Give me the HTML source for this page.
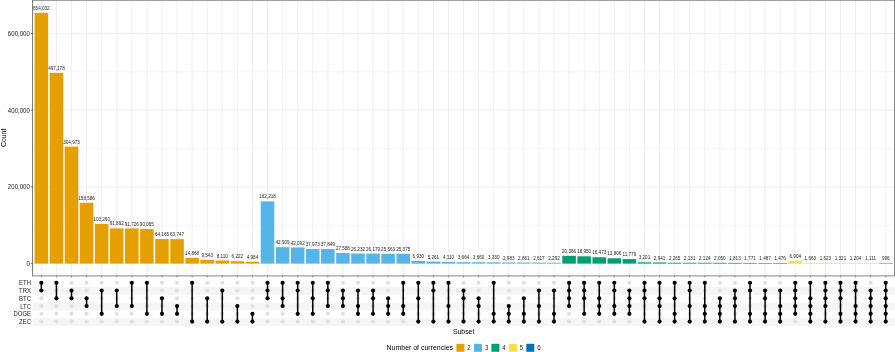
<!DOCTYPE html>
<html><head><meta charset="utf-8"><title>UpSet plot</title>
<style>html,body{margin:0;padding:0;background:#fff;}body{width:895px;height:352px;overflow:hidden;font-family:"Liberation Sans", sans-serif;}svg{display:block;will-change:transform;}</style>
</head><body>
<svg width="895" height="352" viewBox="0 0 895 352">
<rect x="0" y="0" width="895" height="352" fill="#fff"/>
<line x1="32.45" x2="894.30" y1="263.60" y2="263.60" stroke="#EDEDED" stroke-width="0.9"/><line x1="32.45" x2="894.30" y1="225.25" y2="225.25" stroke="#EDEDED" stroke-width="0.5"/><line x1="32.45" x2="894.30" y1="186.90" y2="186.90" stroke="#EDEDED" stroke-width="0.9"/><line x1="32.45" x2="894.30" y1="148.55" y2="148.55" stroke="#EDEDED" stroke-width="0.5"/><line x1="32.45" x2="894.30" y1="110.20" y2="110.20" stroke="#EDEDED" stroke-width="0.9"/><line x1="32.45" x2="894.30" y1="71.85" y2="71.85" stroke="#EDEDED" stroke-width="0.5"/><line x1="32.45" x2="894.30" y1="33.50" y2="33.50" stroke="#EDEDED" stroke-width="0.9"/><line x1="41.35" x2="41.35" y1="0.0" y2="275.90" stroke="#EDEDED" stroke-width="0.9"/><line x1="56.43" x2="56.43" y1="0.0" y2="275.90" stroke="#EDEDED" stroke-width="0.9"/><line x1="71.51" x2="71.51" y1="0.0" y2="275.90" stroke="#EDEDED" stroke-width="0.9"/><line x1="86.58" x2="86.58" y1="0.0" y2="275.90" stroke="#EDEDED" stroke-width="0.9"/><line x1="101.66" x2="101.66" y1="0.0" y2="275.90" stroke="#EDEDED" stroke-width="0.9"/><line x1="116.74" x2="116.74" y1="0.0" y2="275.90" stroke="#EDEDED" stroke-width="0.9"/><line x1="131.82" x2="131.82" y1="0.0" y2="275.90" stroke="#EDEDED" stroke-width="0.9"/><line x1="146.90" x2="146.90" y1="0.0" y2="275.90" stroke="#EDEDED" stroke-width="0.9"/><line x1="161.97" x2="161.97" y1="0.0" y2="275.90" stroke="#EDEDED" stroke-width="0.9"/><line x1="177.05" x2="177.05" y1="0.0" y2="275.90" stroke="#EDEDED" stroke-width="0.9"/><line x1="192.13" x2="192.13" y1="0.0" y2="275.90" stroke="#EDEDED" stroke-width="0.9"/><line x1="207.21" x2="207.21" y1="0.0" y2="275.90" stroke="#EDEDED" stroke-width="0.9"/><line x1="222.29" x2="222.29" y1="0.0" y2="275.90" stroke="#EDEDED" stroke-width="0.9"/><line x1="237.36" x2="237.36" y1="0.0" y2="275.90" stroke="#EDEDED" stroke-width="0.9"/><line x1="252.44" x2="252.44" y1="0.0" y2="275.90" stroke="#EDEDED" stroke-width="0.9"/><line x1="267.52" x2="267.52" y1="0.0" y2="275.90" stroke="#EDEDED" stroke-width="0.9"/><line x1="282.60" x2="282.60" y1="0.0" y2="275.90" stroke="#EDEDED" stroke-width="0.9"/><line x1="297.68" x2="297.68" y1="0.0" y2="275.90" stroke="#EDEDED" stroke-width="0.9"/><line x1="312.75" x2="312.75" y1="0.0" y2="275.90" stroke="#EDEDED" stroke-width="0.9"/><line x1="327.83" x2="327.83" y1="0.0" y2="275.90" stroke="#EDEDED" stroke-width="0.9"/><line x1="342.91" x2="342.91" y1="0.0" y2="275.90" stroke="#EDEDED" stroke-width="0.9"/><line x1="357.99" x2="357.99" y1="0.0" y2="275.90" stroke="#EDEDED" stroke-width="0.9"/><line x1="373.07" x2="373.07" y1="0.0" y2="275.90" stroke="#EDEDED" stroke-width="0.9"/><line x1="388.14" x2="388.14" y1="0.0" y2="275.90" stroke="#EDEDED" stroke-width="0.9"/><line x1="403.22" x2="403.22" y1="0.0" y2="275.90" stroke="#EDEDED" stroke-width="0.9"/><line x1="418.30" x2="418.30" y1="0.0" y2="275.90" stroke="#EDEDED" stroke-width="0.9"/><line x1="433.38" x2="433.38" y1="0.0" y2="275.90" stroke="#EDEDED" stroke-width="0.9"/><line x1="448.46" x2="448.46" y1="0.0" y2="275.90" stroke="#EDEDED" stroke-width="0.9"/><line x1="463.53" x2="463.53" y1="0.0" y2="275.90" stroke="#EDEDED" stroke-width="0.9"/><line x1="478.61" x2="478.61" y1="0.0" y2="275.90" stroke="#EDEDED" stroke-width="0.9"/><line x1="493.69" x2="493.69" y1="0.0" y2="275.90" stroke="#EDEDED" stroke-width="0.9"/><line x1="508.77" x2="508.77" y1="0.0" y2="275.90" stroke="#EDEDED" stroke-width="0.9"/><line x1="523.85" x2="523.85" y1="0.0" y2="275.90" stroke="#EDEDED" stroke-width="0.9"/><line x1="538.92" x2="538.92" y1="0.0" y2="275.90" stroke="#EDEDED" stroke-width="0.9"/><line x1="554.00" x2="554.00" y1="0.0" y2="275.90" stroke="#EDEDED" stroke-width="0.9"/><line x1="569.08" x2="569.08" y1="0.0" y2="275.90" stroke="#EDEDED" stroke-width="0.9"/><line x1="584.16" x2="584.16" y1="0.0" y2="275.90" stroke="#EDEDED" stroke-width="0.9"/><line x1="599.24" x2="599.24" y1="0.0" y2="275.90" stroke="#EDEDED" stroke-width="0.9"/><line x1="614.31" x2="614.31" y1="0.0" y2="275.90" stroke="#EDEDED" stroke-width="0.9"/><line x1="629.39" x2="629.39" y1="0.0" y2="275.90" stroke="#EDEDED" stroke-width="0.9"/><line x1="644.47" x2="644.47" y1="0.0" y2="275.90" stroke="#EDEDED" stroke-width="0.9"/><line x1="659.55" x2="659.55" y1="0.0" y2="275.90" stroke="#EDEDED" stroke-width="0.9"/><line x1="674.63" x2="674.63" y1="0.0" y2="275.90" stroke="#EDEDED" stroke-width="0.9"/><line x1="689.70" x2="689.70" y1="0.0" y2="275.90" stroke="#EDEDED" stroke-width="0.9"/><line x1="704.78" x2="704.78" y1="0.0" y2="275.90" stroke="#EDEDED" stroke-width="0.9"/><line x1="719.86" x2="719.86" y1="0.0" y2="275.90" stroke="#EDEDED" stroke-width="0.9"/><line x1="734.94" x2="734.94" y1="0.0" y2="275.90" stroke="#EDEDED" stroke-width="0.9"/><line x1="750.02" x2="750.02" y1="0.0" y2="275.90" stroke="#EDEDED" stroke-width="0.9"/><line x1="765.09" x2="765.09" y1="0.0" y2="275.90" stroke="#EDEDED" stroke-width="0.9"/><line x1="780.17" x2="780.17" y1="0.0" y2="275.90" stroke="#EDEDED" stroke-width="0.9"/><line x1="795.25" x2="795.25" y1="0.0" y2="275.90" stroke="#EDEDED" stroke-width="0.9"/><line x1="810.33" x2="810.33" y1="0.0" y2="275.90" stroke="#EDEDED" stroke-width="0.9"/><line x1="825.41" x2="825.41" y1="0.0" y2="275.90" stroke="#EDEDED" stroke-width="0.9"/><line x1="840.48" x2="840.48" y1="0.0" y2="275.90" stroke="#EDEDED" stroke-width="0.9"/><line x1="855.56" x2="855.56" y1="0.0" y2="275.90" stroke="#EDEDED" stroke-width="0.9"/><line x1="870.64" x2="870.64" y1="0.0" y2="275.90" stroke="#EDEDED" stroke-width="0.9"/><line x1="885.72" x2="885.72" y1="0.0" y2="275.90" stroke="#EDEDED" stroke-width="0.9"/>
<rect x="34.57" y="12.78" width="13.56" height="250.82" fill="#E69F00"/><rect x="49.65" y="72.93" width="13.56" height="190.67" fill="#E69F00"/><rect x="64.73" y="146.64" width="13.56" height="116.96" fill="#E69F00"/><rect x="79.80" y="202.78" width="13.56" height="60.82" fill="#E69F00"/><rect x="94.88" y="224.00" width="13.56" height="39.60" fill="#E69F00"/><rect x="109.96" y="228.36" width="13.56" height="35.24" fill="#E69F00"/><rect x="125.04" y="228.42" width="13.56" height="35.18" fill="#E69F00"/><rect x="140.12" y="229.06" width="13.56" height="34.54" fill="#E69F00"/><rect x="155.19" y="238.99" width="13.56" height="24.61" fill="#E69F00"/><rect x="170.27" y="239.15" width="13.56" height="24.45" fill="#E69F00"/><rect x="185.35" y="257.90" width="13.56" height="5.70" fill="#E69F00"/><rect x="200.43" y="259.94" width="13.56" height="3.66" fill="#E69F00"/><rect x="215.51" y="260.49" width="13.56" height="3.11" fill="#E69F00"/><rect x="230.58" y="261.21" width="13.56" height="2.39" fill="#E69F00"/><rect x="245.66" y="261.69" width="13.56" height="1.91" fill="#E69F00"/><rect x="260.74" y="201.39" width="13.56" height="62.21" fill="#56B4E9"/><rect x="275.82" y="247.14" width="13.56" height="16.46" fill="#56B4E9"/><rect x="290.90" y="247.46" width="13.56" height="16.14" fill="#56B4E9"/><rect x="305.97" y="249.04" width="13.56" height="14.56" fill="#56B4E9"/><rect x="321.05" y="249.08" width="13.56" height="14.52" fill="#56B4E9"/><rect x="336.13" y="253.02" width="13.56" height="10.58" fill="#56B4E9"/><rect x="351.21" y="253.54" width="13.56" height="10.06" fill="#56B4E9"/><rect x="366.29" y="253.56" width="13.56" height="10.04" fill="#56B4E9"/><rect x="381.36" y="253.80" width="13.56" height="9.80" fill="#56B4E9"/><rect x="396.44" y="253.87" width="13.56" height="9.73" fill="#56B4E9"/><rect x="411.52" y="260.94" width="13.56" height="2.66" fill="#56B4E9"/><rect x="426.60" y="261.58" width="13.56" height="2.02" fill="#56B4E9"/><rect x="441.68" y="262.02" width="13.56" height="1.58" fill="#56B4E9"/><rect x="456.75" y="262.19" width="13.56" height="1.41" fill="#56B4E9"/><rect x="471.83" y="262.20" width="13.56" height="1.40" fill="#56B4E9"/><rect x="486.91" y="262.32" width="13.56" height="1.28" fill="#56B4E9"/><rect x="501.99" y="262.46" width="13.56" height="1.14" fill="#56B4E9"/><rect x="517.07" y="262.50" width="13.56" height="1.10" fill="#56B4E9"/><rect x="532.14" y="262.60" width="13.56" height="1.00" fill="#56B4E9"/><rect x="547.22" y="262.72" width="13.56" height="0.88" fill="#56B4E9"/><rect x="562.30" y="255.79" width="13.56" height="7.81" fill="#009E73"/><rect x="577.38" y="256.33" width="13.56" height="7.27" fill="#009E73"/><rect x="592.46" y="257.28" width="13.56" height="6.32" fill="#009E73"/><rect x="607.53" y="258.31" width="13.56" height="5.29" fill="#009E73"/><rect x="622.61" y="259.08" width="13.56" height="4.52" fill="#009E73"/><rect x="637.69" y="262.37" width="13.56" height="1.23" fill="#009E73"/><rect x="652.77" y="262.47" width="13.56" height="1.13" fill="#009E73"/><rect x="667.85" y="262.73" width="13.56" height="0.87" fill="#009E73"/><rect x="682.92" y="262.78" width="13.56" height="0.82" fill="#009E73"/><rect x="698.00" y="262.79" width="13.56" height="0.81" fill="#009E73"/><rect x="713.08" y="262.81" width="13.56" height="0.79" fill="#009E73"/><rect x="728.16" y="262.90" width="13.56" height="0.70" fill="#009E73"/><rect x="743.24" y="262.92" width="13.56" height="0.68" fill="#009E73"/><rect x="758.31" y="263.03" width="13.56" height="0.57" fill="#009E73"/><rect x="773.39" y="263.03" width="13.56" height="0.57" fill="#009E73"/><rect x="788.47" y="260.95" width="13.56" height="2.65" fill="#F0E442"/><rect x="803.55" y="262.96" width="13.56" height="0.64" fill="#F0E442"/><rect x="818.63" y="262.98" width="13.56" height="0.62" fill="#F0E442"/><rect x="833.70" y="263.09" width="13.56" height="0.51" fill="#F0E442"/><rect x="848.78" y="263.14" width="13.56" height="0.46" fill="#F0E442"/><rect x="863.86" y="263.17" width="13.56" height="0.43" fill="#F0E442"/><rect x="878.94" y="263.22" width="13.56" height="0.38" fill="#0072B2"/>
<g font-family="Liberation Sans, sans-serif"><text x="41.35" y="9.88" font-size="4.6" fill="#1e1e1e" text-anchor="middle">654,032</text><text x="56.43" y="70.03" font-size="4.6" fill="#1e1e1e" text-anchor="middle">497,178</text><text x="71.51" y="143.74" font-size="4.6" fill="#1e1e1e" text-anchor="middle">304,973</text><text x="86.58" y="199.88" font-size="4.6" fill="#1e1e1e" text-anchor="middle">158,586</text><text x="101.66" y="221.10" font-size="4.6" fill="#1e1e1e" text-anchor="middle">103,260</text><text x="116.74" y="225.46" font-size="4.6" fill="#1e1e1e" text-anchor="middle">91,892</text><text x="131.82" y="225.52" font-size="4.6" fill="#1e1e1e" text-anchor="middle">91,726</text><text x="146.90" y="226.16" font-size="4.6" fill="#1e1e1e" text-anchor="middle">90,065</text><text x="161.97" y="236.09" font-size="4.6" fill="#1e1e1e" text-anchor="middle">64,165</text><text x="177.05" y="236.25" font-size="4.6" fill="#1e1e1e" text-anchor="middle">63,747</text><text x="192.13" y="255.00" font-size="4.6" fill="#1e1e1e" text-anchor="middle">14,868</text><text x="207.21" y="257.04" font-size="4.6" fill="#1e1e1e" text-anchor="middle">9,543</text><text x="222.29" y="257.59" font-size="4.6" fill="#1e1e1e" text-anchor="middle">8,110</text><text x="237.36" y="258.31" font-size="4.6" fill="#1e1e1e" text-anchor="middle">6,222</text><text x="252.44" y="258.79" font-size="4.6" fill="#1e1e1e" text-anchor="middle">4,984</text><text x="267.52" y="198.49" font-size="4.6" fill="#1e1e1e" text-anchor="middle">162,218</text><text x="282.60" y="244.24" font-size="4.6" fill="#1e1e1e" text-anchor="middle">42,909</text><text x="297.68" y="244.56" font-size="4.6" fill="#1e1e1e" text-anchor="middle">42,092</text><text x="312.75" y="246.14" font-size="4.6" fill="#1e1e1e" text-anchor="middle">37,973</text><text x="327.83" y="246.18" font-size="4.6" fill="#1e1e1e" text-anchor="middle">37,849</text><text x="342.91" y="250.12" font-size="4.6" fill="#1e1e1e" text-anchor="middle">27,588</text><text x="357.99" y="250.64" font-size="4.6" fill="#1e1e1e" text-anchor="middle">26,232</text><text x="373.07" y="250.66" font-size="4.6" fill="#1e1e1e" text-anchor="middle">26,179</text><text x="388.14" y="250.90" font-size="4.6" fill="#1e1e1e" text-anchor="middle">25,563</text><text x="403.22" y="250.97" font-size="4.6" fill="#1e1e1e" text-anchor="middle">25,375</text><text x="418.30" y="258.04" font-size="4.6" fill="#1e1e1e" text-anchor="middle">6,930</text><text x="433.38" y="258.68" font-size="4.6" fill="#1e1e1e" text-anchor="middle">5,261</text><text x="448.46" y="259.12" font-size="4.6" fill="#1e1e1e" text-anchor="middle">4,110</text><text x="463.53" y="259.29" font-size="4.6" fill="#1e1e1e" text-anchor="middle">3,664</text><text x="478.61" y="259.30" font-size="4.6" fill="#1e1e1e" text-anchor="middle">3,660</text><text x="493.69" y="259.42" font-size="4.6" fill="#1e1e1e" text-anchor="middle">3,330</text><text x="508.77" y="259.56" font-size="4.6" fill="#1e1e1e" text-anchor="middle">2,983</text><text x="523.85" y="259.60" font-size="4.6" fill="#1e1e1e" text-anchor="middle">2,861</text><text x="538.92" y="259.70" font-size="4.6" fill="#1e1e1e" text-anchor="middle">2,617</text><text x="554.00" y="259.82" font-size="4.6" fill="#1e1e1e" text-anchor="middle">2,292</text><text x="569.08" y="252.89" font-size="4.6" fill="#1e1e1e" text-anchor="middle">20,366</text><text x="584.16" y="253.43" font-size="4.6" fill="#1e1e1e" text-anchor="middle">18,950</text><text x="599.24" y="254.38" font-size="4.6" fill="#1e1e1e" text-anchor="middle">16,473</text><text x="614.31" y="255.41" font-size="4.6" fill="#1e1e1e" text-anchor="middle">13,806</text><text x="629.39" y="256.18" font-size="4.6" fill="#1e1e1e" text-anchor="middle">11,779</text><text x="644.47" y="259.47" font-size="4.6" fill="#1e1e1e" text-anchor="middle">3,201</text><text x="659.55" y="259.57" font-size="4.6" fill="#1e1e1e" text-anchor="middle">2,941</text><text x="674.63" y="259.83" font-size="4.6" fill="#1e1e1e" text-anchor="middle">2,265</text><text x="689.70" y="259.88" font-size="4.6" fill="#1e1e1e" text-anchor="middle">2,131</text><text x="704.78" y="259.89" font-size="4.6" fill="#1e1e1e" text-anchor="middle">2,124</text><text x="719.86" y="259.91" font-size="4.6" fill="#1e1e1e" text-anchor="middle">2,050</text><text x="734.94" y="260.00" font-size="4.6" fill="#1e1e1e" text-anchor="middle">1,813</text><text x="750.02" y="260.02" font-size="4.6" fill="#1e1e1e" text-anchor="middle">1,771</text><text x="765.09" y="260.13" font-size="4.6" fill="#1e1e1e" text-anchor="middle">1,487</text><text x="780.17" y="260.13" font-size="4.6" fill="#1e1e1e" text-anchor="middle">1,476</text><text x="795.25" y="258.05" font-size="4.6" fill="#1e1e1e" text-anchor="middle">6,904</text><text x="810.33" y="260.06" font-size="4.6" fill="#1e1e1e" text-anchor="middle">1,663</text><text x="825.41" y="260.08" font-size="4.6" fill="#1e1e1e" text-anchor="middle">1,623</text><text x="840.48" y="260.19" font-size="4.6" fill="#1e1e1e" text-anchor="middle">1,321</text><text x="855.56" y="260.24" font-size="4.6" fill="#1e1e1e" text-anchor="middle">1,204</text><text x="870.64" y="260.27" font-size="4.6" fill="#1e1e1e" text-anchor="middle">1,111</text><text x="885.72" y="260.32" font-size="4.6" fill="#1e1e1e" text-anchor="middle">996</text></g>
<line x1="32.5" x2="895" y1="0.4" y2="0.4" stroke="#888" stroke-width="0.9"/>
<line x1="894.5" x2="894.5" y1="0" y2="275.90" stroke="#888" stroke-width="1"/>
<line x1="32.55" x2="32.55" y1="0" y2="276.40" stroke="#777" stroke-width="1"/>
<line x1="32.05" x2="894.30" y1="275.90" y2="275.90" stroke="#888" stroke-width="1"/>
<line x1="30.8" x2="32.5" y1="263.60" y2="263.60" stroke="#444" stroke-width="0.8"/><line x1="30.8" x2="32.5" y1="186.90" y2="186.90" stroke="#444" stroke-width="0.8"/><line x1="30.8" x2="32.5" y1="110.20" y2="110.20" stroke="#444" stroke-width="0.8"/><line x1="30.8" x2="32.5" y1="33.50" y2="33.50" stroke="#444" stroke-width="0.8"/>
<g font-family="Liberation Sans, sans-serif"><text transform="translate(29.90 265.90) scale(0.1000 0.1100)" font-size="61.0" fill="#222" text-anchor="end">0</text><text transform="translate(29.90 189.20) scale(0.1000 0.1100)" font-size="61.0" fill="#222" text-anchor="end">200,000</text><text transform="translate(29.90 112.50) scale(0.1000 0.1100)" font-size="61.0" fill="#222" text-anchor="end">400,000</text><text transform="translate(29.90 35.80) scale(0.1000 0.1100)" font-size="61.0" fill="#222" text-anchor="end">600,000</text></g>
<line x1="41.35" x2="41.35" y1="275.90" y2="277.30" stroke="#555" stroke-width="0.7"/><line x1="56.43" x2="56.43" y1="275.90" y2="277.30" stroke="#555" stroke-width="0.7"/><line x1="71.51" x2="71.51" y1="275.90" y2="277.30" stroke="#555" stroke-width="0.7"/><line x1="86.58" x2="86.58" y1="275.90" y2="277.30" stroke="#555" stroke-width="0.7"/><line x1="101.66" x2="101.66" y1="275.90" y2="277.30" stroke="#555" stroke-width="0.7"/><line x1="116.74" x2="116.74" y1="275.90" y2="277.30" stroke="#555" stroke-width="0.7"/><line x1="131.82" x2="131.82" y1="275.90" y2="277.30" stroke="#555" stroke-width="0.7"/><line x1="146.90" x2="146.90" y1="275.90" y2="277.30" stroke="#555" stroke-width="0.7"/><line x1="161.97" x2="161.97" y1="275.90" y2="277.30" stroke="#555" stroke-width="0.7"/><line x1="177.05" x2="177.05" y1="275.90" y2="277.30" stroke="#555" stroke-width="0.7"/><line x1="192.13" x2="192.13" y1="275.90" y2="277.30" stroke="#555" stroke-width="0.7"/><line x1="207.21" x2="207.21" y1="275.90" y2="277.30" stroke="#555" stroke-width="0.7"/><line x1="222.29" x2="222.29" y1="275.90" y2="277.30" stroke="#555" stroke-width="0.7"/><line x1="237.36" x2="237.36" y1="275.90" y2="277.30" stroke="#555" stroke-width="0.7"/><line x1="252.44" x2="252.44" y1="275.90" y2="277.30" stroke="#555" stroke-width="0.7"/><line x1="267.52" x2="267.52" y1="275.90" y2="277.30" stroke="#555" stroke-width="0.7"/><line x1="282.60" x2="282.60" y1="275.90" y2="277.30" stroke="#555" stroke-width="0.7"/><line x1="297.68" x2="297.68" y1="275.90" y2="277.30" stroke="#555" stroke-width="0.7"/><line x1="312.75" x2="312.75" y1="275.90" y2="277.30" stroke="#555" stroke-width="0.7"/><line x1="327.83" x2="327.83" y1="275.90" y2="277.30" stroke="#555" stroke-width="0.7"/><line x1="342.91" x2="342.91" y1="275.90" y2="277.30" stroke="#555" stroke-width="0.7"/><line x1="357.99" x2="357.99" y1="275.90" y2="277.30" stroke="#555" stroke-width="0.7"/><line x1="373.07" x2="373.07" y1="275.90" y2="277.30" stroke="#555" stroke-width="0.7"/><line x1="388.14" x2="388.14" y1="275.90" y2="277.30" stroke="#555" stroke-width="0.7"/><line x1="403.22" x2="403.22" y1="275.90" y2="277.30" stroke="#555" stroke-width="0.7"/><line x1="418.30" x2="418.30" y1="275.90" y2="277.30" stroke="#555" stroke-width="0.7"/><line x1="433.38" x2="433.38" y1="275.90" y2="277.30" stroke="#555" stroke-width="0.7"/><line x1="448.46" x2="448.46" y1="275.90" y2="277.30" stroke="#555" stroke-width="0.7"/><line x1="463.53" x2="463.53" y1="275.90" y2="277.30" stroke="#555" stroke-width="0.7"/><line x1="478.61" x2="478.61" y1="275.90" y2="277.30" stroke="#555" stroke-width="0.7"/><line x1="493.69" x2="493.69" y1="275.90" y2="277.30" stroke="#555" stroke-width="0.7"/><line x1="508.77" x2="508.77" y1="275.90" y2="277.30" stroke="#555" stroke-width="0.7"/><line x1="523.85" x2="523.85" y1="275.90" y2="277.30" stroke="#555" stroke-width="0.7"/><line x1="538.92" x2="538.92" y1="275.90" y2="277.30" stroke="#555" stroke-width="0.7"/><line x1="554.00" x2="554.00" y1="275.90" y2="277.30" stroke="#555" stroke-width="0.7"/><line x1="569.08" x2="569.08" y1="275.90" y2="277.30" stroke="#555" stroke-width="0.7"/><line x1="584.16" x2="584.16" y1="275.90" y2="277.30" stroke="#555" stroke-width="0.7"/><line x1="599.24" x2="599.24" y1="275.90" y2="277.30" stroke="#555" stroke-width="0.7"/><line x1="614.31" x2="614.31" y1="275.90" y2="277.30" stroke="#555" stroke-width="0.7"/><line x1="629.39" x2="629.39" y1="275.90" y2="277.30" stroke="#555" stroke-width="0.7"/><line x1="644.47" x2="644.47" y1="275.90" y2="277.30" stroke="#555" stroke-width="0.7"/><line x1="659.55" x2="659.55" y1="275.90" y2="277.30" stroke="#555" stroke-width="0.7"/><line x1="674.63" x2="674.63" y1="275.90" y2="277.30" stroke="#555" stroke-width="0.7"/><line x1="689.70" x2="689.70" y1="275.90" y2="277.30" stroke="#555" stroke-width="0.7"/><line x1="704.78" x2="704.78" y1="275.90" y2="277.30" stroke="#555" stroke-width="0.7"/><line x1="719.86" x2="719.86" y1="275.90" y2="277.30" stroke="#555" stroke-width="0.7"/><line x1="734.94" x2="734.94" y1="275.90" y2="277.30" stroke="#555" stroke-width="0.7"/><line x1="750.02" x2="750.02" y1="275.90" y2="277.30" stroke="#555" stroke-width="0.7"/><line x1="765.09" x2="765.09" y1="275.90" y2="277.30" stroke="#555" stroke-width="0.7"/><line x1="780.17" x2="780.17" y1="275.90" y2="277.30" stroke="#555" stroke-width="0.7"/><line x1="795.25" x2="795.25" y1="275.90" y2="277.30" stroke="#555" stroke-width="0.7"/><line x1="810.33" x2="810.33" y1="275.90" y2="277.30" stroke="#555" stroke-width="0.7"/><line x1="825.41" x2="825.41" y1="275.90" y2="277.30" stroke="#555" stroke-width="0.7"/><line x1="840.48" x2="840.48" y1="275.90" y2="277.30" stroke="#555" stroke-width="0.7"/><line x1="855.56" x2="855.56" y1="275.90" y2="277.30" stroke="#555" stroke-width="0.7"/><line x1="870.64" x2="870.64" y1="275.90" y2="277.30" stroke="#555" stroke-width="0.7"/><line x1="885.72" x2="885.72" y1="275.90" y2="277.30" stroke="#555" stroke-width="0.7"/>
<text transform="translate(6.2,137.9) rotate(-90) scale(0.1 0.1080)" font-family="Liberation Sans, sans-serif" font-size="69.0" fill="#000" text-anchor="middle">Count</text>
<rect x="32.45" y="286.99" width="862.55" height="7.77" fill="#F5F5F5"/><rect x="32.45" y="302.53" width="862.55" height="7.77" fill="#F5F5F5"/><rect x="32.45" y="318.07" width="862.55" height="7.77" fill="#F5F5F5"/>
<g font-family="Liberation Sans, sans-serif"><text transform="translate(31.00 285.20) scale(0.1000 0.1100)" font-size="59.5" fill="#222" text-anchor="end">ETH</text><text transform="translate(31.00 292.97) scale(0.1000 0.1100)" font-size="59.5" fill="#222" text-anchor="end">TRX</text><text transform="translate(31.00 300.74) scale(0.1000 0.1100)" font-size="59.5" fill="#222" text-anchor="end">BTC</text><text transform="translate(31.00 308.51) scale(0.1000 0.1100)" font-size="59.5" fill="#222" text-anchor="end">LTC</text><text transform="translate(31.00 316.28) scale(0.1000 0.1100)" font-size="59.5" fill="#222" text-anchor="end">DOGE</text><text transform="translate(31.00 324.05) scale(0.1000 0.1100)" font-size="59.5" fill="#222" text-anchor="end">ZEC</text></g>
<circle cx="41.35" cy="298.29" r="2.1" fill="#E0E0E0"/><circle cx="41.35" cy="306.06" r="2.1" fill="#E0E0E0"/><circle cx="41.35" cy="313.83" r="2.1" fill="#E0E0E0"/><circle cx="41.35" cy="321.60" r="2.1" fill="#E0E0E0"/><circle cx="56.43" cy="290.52" r="2.1" fill="#E0E0E0"/><circle cx="56.43" cy="306.06" r="2.1" fill="#E0E0E0"/><circle cx="56.43" cy="313.83" r="2.1" fill="#E0E0E0"/><circle cx="56.43" cy="321.60" r="2.1" fill="#E0E0E0"/><circle cx="71.51" cy="282.75" r="2.1" fill="#E0E0E0"/><circle cx="71.51" cy="306.06" r="2.1" fill="#E0E0E0"/><circle cx="71.51" cy="313.83" r="2.1" fill="#E0E0E0"/><circle cx="71.51" cy="321.60" r="2.1" fill="#E0E0E0"/><circle cx="86.58" cy="282.75" r="2.1" fill="#E0E0E0"/><circle cx="86.58" cy="290.52" r="2.1" fill="#E0E0E0"/><circle cx="86.58" cy="313.83" r="2.1" fill="#E0E0E0"/><circle cx="86.58" cy="321.60" r="2.1" fill="#E0E0E0"/><circle cx="101.66" cy="282.75" r="2.1" fill="#E0E0E0"/><circle cx="101.66" cy="298.29" r="2.1" fill="#E0E0E0"/><circle cx="101.66" cy="306.06" r="2.1" fill="#E0E0E0"/><circle cx="101.66" cy="321.60" r="2.1" fill="#E0E0E0"/><circle cx="116.74" cy="282.75" r="2.1" fill="#E0E0E0"/><circle cx="116.74" cy="298.29" r="2.1" fill="#E0E0E0"/><circle cx="116.74" cy="313.83" r="2.1" fill="#E0E0E0"/><circle cx="116.74" cy="321.60" r="2.1" fill="#E0E0E0"/><circle cx="131.82" cy="290.52" r="2.1" fill="#E0E0E0"/><circle cx="131.82" cy="298.29" r="2.1" fill="#E0E0E0"/><circle cx="131.82" cy="313.83" r="2.1" fill="#E0E0E0"/><circle cx="131.82" cy="321.60" r="2.1" fill="#E0E0E0"/><circle cx="146.90" cy="290.52" r="2.1" fill="#E0E0E0"/><circle cx="146.90" cy="298.29" r="2.1" fill="#E0E0E0"/><circle cx="146.90" cy="306.06" r="2.1" fill="#E0E0E0"/><circle cx="146.90" cy="321.60" r="2.1" fill="#E0E0E0"/><circle cx="161.97" cy="282.75" r="2.1" fill="#E0E0E0"/><circle cx="161.97" cy="290.52" r="2.1" fill="#E0E0E0"/><circle cx="161.97" cy="306.06" r="2.1" fill="#E0E0E0"/><circle cx="161.97" cy="321.60" r="2.1" fill="#E0E0E0"/><circle cx="177.05" cy="282.75" r="2.1" fill="#E0E0E0"/><circle cx="177.05" cy="290.52" r="2.1" fill="#E0E0E0"/><circle cx="177.05" cy="298.29" r="2.1" fill="#E0E0E0"/><circle cx="177.05" cy="321.60" r="2.1" fill="#E0E0E0"/><circle cx="192.13" cy="290.52" r="2.1" fill="#E0E0E0"/><circle cx="192.13" cy="298.29" r="2.1" fill="#E0E0E0"/><circle cx="192.13" cy="306.06" r="2.1" fill="#E0E0E0"/><circle cx="192.13" cy="313.83" r="2.1" fill="#E0E0E0"/><circle cx="207.21" cy="282.75" r="2.1" fill="#E0E0E0"/><circle cx="207.21" cy="290.52" r="2.1" fill="#E0E0E0"/><circle cx="207.21" cy="306.06" r="2.1" fill="#E0E0E0"/><circle cx="207.21" cy="313.83" r="2.1" fill="#E0E0E0"/><circle cx="222.29" cy="282.75" r="2.1" fill="#E0E0E0"/><circle cx="222.29" cy="298.29" r="2.1" fill="#E0E0E0"/><circle cx="222.29" cy="306.06" r="2.1" fill="#E0E0E0"/><circle cx="222.29" cy="313.83" r="2.1" fill="#E0E0E0"/><circle cx="237.36" cy="282.75" r="2.1" fill="#E0E0E0"/><circle cx="237.36" cy="290.52" r="2.1" fill="#E0E0E0"/><circle cx="237.36" cy="298.29" r="2.1" fill="#E0E0E0"/><circle cx="237.36" cy="313.83" r="2.1" fill="#E0E0E0"/><circle cx="252.44" cy="282.75" r="2.1" fill="#E0E0E0"/><circle cx="252.44" cy="290.52" r="2.1" fill="#E0E0E0"/><circle cx="252.44" cy="298.29" r="2.1" fill="#E0E0E0"/><circle cx="252.44" cy="306.06" r="2.1" fill="#E0E0E0"/><circle cx="267.52" cy="306.06" r="2.1" fill="#E0E0E0"/><circle cx="267.52" cy="313.83" r="2.1" fill="#E0E0E0"/><circle cx="267.52" cy="321.60" r="2.1" fill="#E0E0E0"/><circle cx="282.60" cy="290.52" r="2.1" fill="#E0E0E0"/><circle cx="282.60" cy="313.83" r="2.1" fill="#E0E0E0"/><circle cx="282.60" cy="321.60" r="2.1" fill="#E0E0E0"/><circle cx="297.68" cy="298.29" r="2.1" fill="#E0E0E0"/><circle cx="297.68" cy="306.06" r="2.1" fill="#E0E0E0"/><circle cx="297.68" cy="321.60" r="2.1" fill="#E0E0E0"/><circle cx="312.75" cy="290.52" r="2.1" fill="#E0E0E0"/><circle cx="312.75" cy="306.06" r="2.1" fill="#E0E0E0"/><circle cx="312.75" cy="321.60" r="2.1" fill="#E0E0E0"/><circle cx="327.83" cy="298.29" r="2.1" fill="#E0E0E0"/><circle cx="327.83" cy="313.83" r="2.1" fill="#E0E0E0"/><circle cx="327.83" cy="321.60" r="2.1" fill="#E0E0E0"/><circle cx="342.91" cy="282.75" r="2.1" fill="#E0E0E0"/><circle cx="342.91" cy="313.83" r="2.1" fill="#E0E0E0"/><circle cx="342.91" cy="321.60" r="2.1" fill="#E0E0E0"/><circle cx="357.99" cy="282.75" r="2.1" fill="#E0E0E0"/><circle cx="357.99" cy="298.29" r="2.1" fill="#E0E0E0"/><circle cx="357.99" cy="321.60" r="2.1" fill="#E0E0E0"/><circle cx="373.07" cy="282.75" r="2.1" fill="#E0E0E0"/><circle cx="373.07" cy="306.06" r="2.1" fill="#E0E0E0"/><circle cx="373.07" cy="321.60" r="2.1" fill="#E0E0E0"/><circle cx="388.14" cy="282.75" r="2.1" fill="#E0E0E0"/><circle cx="388.14" cy="290.52" r="2.1" fill="#E0E0E0"/><circle cx="388.14" cy="321.60" r="2.1" fill="#E0E0E0"/><circle cx="403.22" cy="290.52" r="2.1" fill="#E0E0E0"/><circle cx="403.22" cy="298.29" r="2.1" fill="#E0E0E0"/><circle cx="403.22" cy="321.60" r="2.1" fill="#E0E0E0"/><circle cx="418.30" cy="290.52" r="2.1" fill="#E0E0E0"/><circle cx="418.30" cy="306.06" r="2.1" fill="#E0E0E0"/><circle cx="418.30" cy="313.83" r="2.1" fill="#E0E0E0"/><circle cx="433.38" cy="298.29" r="2.1" fill="#E0E0E0"/><circle cx="433.38" cy="306.06" r="2.1" fill="#E0E0E0"/><circle cx="433.38" cy="313.83" r="2.1" fill="#E0E0E0"/><circle cx="448.46" cy="290.52" r="2.1" fill="#E0E0E0"/><circle cx="448.46" cy="298.29" r="2.1" fill="#E0E0E0"/><circle cx="448.46" cy="313.83" r="2.1" fill="#E0E0E0"/><circle cx="463.53" cy="282.75" r="2.1" fill="#E0E0E0"/><circle cx="463.53" cy="306.06" r="2.1" fill="#E0E0E0"/><circle cx="463.53" cy="313.83" r="2.1" fill="#E0E0E0"/><circle cx="478.61" cy="282.75" r="2.1" fill="#E0E0E0"/><circle cx="478.61" cy="290.52" r="2.1" fill="#E0E0E0"/><circle cx="478.61" cy="313.83" r="2.1" fill="#E0E0E0"/><circle cx="493.69" cy="290.52" r="2.1" fill="#E0E0E0"/><circle cx="493.69" cy="298.29" r="2.1" fill="#E0E0E0"/><circle cx="493.69" cy="306.06" r="2.1" fill="#E0E0E0"/><circle cx="508.77" cy="282.75" r="2.1" fill="#E0E0E0"/><circle cx="508.77" cy="290.52" r="2.1" fill="#E0E0E0"/><circle cx="508.77" cy="298.29" r="2.1" fill="#E0E0E0"/><circle cx="523.85" cy="282.75" r="2.1" fill="#E0E0E0"/><circle cx="523.85" cy="290.52" r="2.1" fill="#E0E0E0"/><circle cx="523.85" cy="306.06" r="2.1" fill="#E0E0E0"/><circle cx="538.92" cy="282.75" r="2.1" fill="#E0E0E0"/><circle cx="538.92" cy="298.29" r="2.1" fill="#E0E0E0"/><circle cx="538.92" cy="313.83" r="2.1" fill="#E0E0E0"/><circle cx="554.00" cy="282.75" r="2.1" fill="#E0E0E0"/><circle cx="554.00" cy="298.29" r="2.1" fill="#E0E0E0"/><circle cx="554.00" cy="306.06" r="2.1" fill="#E0E0E0"/><circle cx="569.08" cy="313.83" r="2.1" fill="#E0E0E0"/><circle cx="569.08" cy="321.60" r="2.1" fill="#E0E0E0"/><circle cx="584.16" cy="306.06" r="2.1" fill="#E0E0E0"/><circle cx="584.16" cy="321.60" r="2.1" fill="#E0E0E0"/><circle cx="599.24" cy="290.52" r="2.1" fill="#E0E0E0"/><circle cx="599.24" cy="321.60" r="2.1" fill="#E0E0E0"/><circle cx="614.31" cy="298.29" r="2.1" fill="#E0E0E0"/><circle cx="614.31" cy="321.60" r="2.1" fill="#E0E0E0"/><circle cx="629.39" cy="282.75" r="2.1" fill="#E0E0E0"/><circle cx="629.39" cy="321.60" r="2.1" fill="#E0E0E0"/><circle cx="644.47" cy="306.06" r="2.1" fill="#E0E0E0"/><circle cx="644.47" cy="313.83" r="2.1" fill="#E0E0E0"/><circle cx="659.55" cy="290.52" r="2.1" fill="#E0E0E0"/><circle cx="659.55" cy="313.83" r="2.1" fill="#E0E0E0"/><circle cx="674.63" cy="290.52" r="2.1" fill="#E0E0E0"/><circle cx="674.63" cy="306.06" r="2.1" fill="#E0E0E0"/><circle cx="689.70" cy="298.29" r="2.1" fill="#E0E0E0"/><circle cx="689.70" cy="313.83" r="2.1" fill="#E0E0E0"/><circle cx="704.78" cy="290.52" r="2.1" fill="#E0E0E0"/><circle cx="704.78" cy="298.29" r="2.1" fill="#E0E0E0"/><circle cx="719.86" cy="282.75" r="2.1" fill="#E0E0E0"/><circle cx="719.86" cy="290.52" r="2.1" fill="#E0E0E0"/><circle cx="734.94" cy="282.75" r="2.1" fill="#E0E0E0"/><circle cx="734.94" cy="313.83" r="2.1" fill="#E0E0E0"/><circle cx="750.02" cy="298.29" r="2.1" fill="#E0E0E0"/><circle cx="750.02" cy="306.06" r="2.1" fill="#E0E0E0"/><circle cx="765.09" cy="282.75" r="2.1" fill="#E0E0E0"/><circle cx="765.09" cy="306.06" r="2.1" fill="#E0E0E0"/><circle cx="780.17" cy="282.75" r="2.1" fill="#E0E0E0"/><circle cx="780.17" cy="298.29" r="2.1" fill="#E0E0E0"/><circle cx="795.25" cy="321.60" r="2.1" fill="#E0E0E0"/><circle cx="810.33" cy="290.52" r="2.1" fill="#E0E0E0"/><circle cx="825.41" cy="313.83" r="2.1" fill="#E0E0E0"/><circle cx="840.48" cy="306.06" r="2.1" fill="#E0E0E0"/><circle cx="855.56" cy="298.29" r="2.1" fill="#E0E0E0"/><circle cx="870.64" cy="282.75" r="2.1" fill="#E0E0E0"/>
<line x1="41.35" x2="41.35" y1="282.75" y2="290.52" stroke="#000" stroke-width="1.5"/><line x1="56.43" x2="56.43" y1="282.75" y2="298.29" stroke="#000" stroke-width="1.5"/><line x1="71.51" x2="71.51" y1="290.52" y2="298.29" stroke="#000" stroke-width="1.5"/><line x1="86.58" x2="86.58" y1="298.29" y2="306.06" stroke="#000" stroke-width="1.5"/><line x1="101.66" x2="101.66" y1="290.52" y2="313.83" stroke="#000" stroke-width="1.5"/><line x1="116.74" x2="116.74" y1="290.52" y2="306.06" stroke="#000" stroke-width="1.5"/><line x1="131.82" x2="131.82" y1="282.75" y2="306.06" stroke="#000" stroke-width="1.5"/><line x1="146.90" x2="146.90" y1="282.75" y2="313.83" stroke="#000" stroke-width="1.5"/><line x1="161.97" x2="161.97" y1="298.29" y2="313.83" stroke="#000" stroke-width="1.5"/><line x1="177.05" x2="177.05" y1="306.06" y2="313.83" stroke="#000" stroke-width="1.5"/><line x1="192.13" x2="192.13" y1="282.75" y2="321.60" stroke="#000" stroke-width="1.5"/><line x1="207.21" x2="207.21" y1="298.29" y2="321.60" stroke="#000" stroke-width="1.5"/><line x1="222.29" x2="222.29" y1="290.52" y2="321.60" stroke="#000" stroke-width="1.5"/><line x1="237.36" x2="237.36" y1="306.06" y2="321.60" stroke="#000" stroke-width="1.5"/><line x1="252.44" x2="252.44" y1="313.83" y2="321.60" stroke="#000" stroke-width="1.5"/><line x1="267.52" x2="267.52" y1="282.75" y2="298.29" stroke="#000" stroke-width="1.5"/><line x1="282.60" x2="282.60" y1="282.75" y2="306.06" stroke="#000" stroke-width="1.5"/><line x1="297.68" x2="297.68" y1="282.75" y2="313.83" stroke="#000" stroke-width="1.5"/><line x1="312.75" x2="312.75" y1="282.75" y2="313.83" stroke="#000" stroke-width="1.5"/><line x1="327.83" x2="327.83" y1="282.75" y2="306.06" stroke="#000" stroke-width="1.5"/><line x1="342.91" x2="342.91" y1="290.52" y2="306.06" stroke="#000" stroke-width="1.5"/><line x1="357.99" x2="357.99" y1="290.52" y2="313.83" stroke="#000" stroke-width="1.5"/><line x1="373.07" x2="373.07" y1="290.52" y2="313.83" stroke="#000" stroke-width="1.5"/><line x1="388.14" x2="388.14" y1="298.29" y2="313.83" stroke="#000" stroke-width="1.5"/><line x1="403.22" x2="403.22" y1="282.75" y2="313.83" stroke="#000" stroke-width="1.5"/><line x1="418.30" x2="418.30" y1="282.75" y2="321.60" stroke="#000" stroke-width="1.5"/><line x1="433.38" x2="433.38" y1="282.75" y2="321.60" stroke="#000" stroke-width="1.5"/><line x1="448.46" x2="448.46" y1="282.75" y2="321.60" stroke="#000" stroke-width="1.5"/><line x1="463.53" x2="463.53" y1="290.52" y2="321.60" stroke="#000" stroke-width="1.5"/><line x1="478.61" x2="478.61" y1="298.29" y2="321.60" stroke="#000" stroke-width="1.5"/><line x1="493.69" x2="493.69" y1="282.75" y2="321.60" stroke="#000" stroke-width="1.5"/><line x1="508.77" x2="508.77" y1="306.06" y2="321.60" stroke="#000" stroke-width="1.5"/><line x1="523.85" x2="523.85" y1="298.29" y2="321.60" stroke="#000" stroke-width="1.5"/><line x1="538.92" x2="538.92" y1="290.52" y2="321.60" stroke="#000" stroke-width="1.5"/><line x1="554.00" x2="554.00" y1="290.52" y2="321.60" stroke="#000" stroke-width="1.5"/><line x1="569.08" x2="569.08" y1="282.75" y2="306.06" stroke="#000" stroke-width="1.5"/><line x1="584.16" x2="584.16" y1="282.75" y2="313.83" stroke="#000" stroke-width="1.5"/><line x1="599.24" x2="599.24" y1="282.75" y2="313.83" stroke="#000" stroke-width="1.5"/><line x1="614.31" x2="614.31" y1="282.75" y2="313.83" stroke="#000" stroke-width="1.5"/><line x1="629.39" x2="629.39" y1="290.52" y2="313.83" stroke="#000" stroke-width="1.5"/><line x1="644.47" x2="644.47" y1="282.75" y2="321.60" stroke="#000" stroke-width="1.5"/><line x1="659.55" x2="659.55" y1="282.75" y2="321.60" stroke="#000" stroke-width="1.5"/><line x1="674.63" x2="674.63" y1="282.75" y2="321.60" stroke="#000" stroke-width="1.5"/><line x1="689.70" x2="689.70" y1="282.75" y2="321.60" stroke="#000" stroke-width="1.5"/><line x1="704.78" x2="704.78" y1="282.75" y2="321.60" stroke="#000" stroke-width="1.5"/><line x1="719.86" x2="719.86" y1="298.29" y2="321.60" stroke="#000" stroke-width="1.5"/><line x1="734.94" x2="734.94" y1="290.52" y2="321.60" stroke="#000" stroke-width="1.5"/><line x1="750.02" x2="750.02" y1="282.75" y2="321.60" stroke="#000" stroke-width="1.5"/><line x1="765.09" x2="765.09" y1="290.52" y2="321.60" stroke="#000" stroke-width="1.5"/><line x1="780.17" x2="780.17" y1="290.52" y2="321.60" stroke="#000" stroke-width="1.5"/><line x1="795.25" x2="795.25" y1="282.75" y2="313.83" stroke="#000" stroke-width="1.5"/><line x1="810.33" x2="810.33" y1="282.75" y2="321.60" stroke="#000" stroke-width="1.5"/><line x1="825.41" x2="825.41" y1="282.75" y2="321.60" stroke="#000" stroke-width="1.5"/><line x1="840.48" x2="840.48" y1="282.75" y2="321.60" stroke="#000" stroke-width="1.5"/><line x1="855.56" x2="855.56" y1="282.75" y2="321.60" stroke="#000" stroke-width="1.5"/><line x1="870.64" x2="870.64" y1="290.52" y2="321.60" stroke="#000" stroke-width="1.5"/><line x1="885.72" x2="885.72" y1="282.75" y2="321.60" stroke="#000" stroke-width="1.5"/>
<circle cx="41.35" cy="282.75" r="2.1" fill="#000"/><circle cx="41.35" cy="290.52" r="2.1" fill="#000"/><circle cx="56.43" cy="282.75" r="2.1" fill="#000"/><circle cx="56.43" cy="298.29" r="2.1" fill="#000"/><circle cx="71.51" cy="290.52" r="2.1" fill="#000"/><circle cx="71.51" cy="298.29" r="2.1" fill="#000"/><circle cx="86.58" cy="298.29" r="2.1" fill="#000"/><circle cx="86.58" cy="306.06" r="2.1" fill="#000"/><circle cx="101.66" cy="290.52" r="2.1" fill="#000"/><circle cx="101.66" cy="313.83" r="2.1" fill="#000"/><circle cx="116.74" cy="290.52" r="2.1" fill="#000"/><circle cx="116.74" cy="306.06" r="2.1" fill="#000"/><circle cx="131.82" cy="282.75" r="2.1" fill="#000"/><circle cx="131.82" cy="306.06" r="2.1" fill="#000"/><circle cx="146.90" cy="282.75" r="2.1" fill="#000"/><circle cx="146.90" cy="313.83" r="2.1" fill="#000"/><circle cx="161.97" cy="298.29" r="2.1" fill="#000"/><circle cx="161.97" cy="313.83" r="2.1" fill="#000"/><circle cx="177.05" cy="306.06" r="2.1" fill="#000"/><circle cx="177.05" cy="313.83" r="2.1" fill="#000"/><circle cx="192.13" cy="282.75" r="2.1" fill="#000"/><circle cx="192.13" cy="321.60" r="2.1" fill="#000"/><circle cx="207.21" cy="298.29" r="2.1" fill="#000"/><circle cx="207.21" cy="321.60" r="2.1" fill="#000"/><circle cx="222.29" cy="290.52" r="2.1" fill="#000"/><circle cx="222.29" cy="321.60" r="2.1" fill="#000"/><circle cx="237.36" cy="306.06" r="2.1" fill="#000"/><circle cx="237.36" cy="321.60" r="2.1" fill="#000"/><circle cx="252.44" cy="313.83" r="2.1" fill="#000"/><circle cx="252.44" cy="321.60" r="2.1" fill="#000"/><circle cx="267.52" cy="282.75" r="2.1" fill="#000"/><circle cx="267.52" cy="290.52" r="2.1" fill="#000"/><circle cx="267.52" cy="298.29" r="2.1" fill="#000"/><circle cx="282.60" cy="282.75" r="2.1" fill="#000"/><circle cx="282.60" cy="298.29" r="2.1" fill="#000"/><circle cx="282.60" cy="306.06" r="2.1" fill="#000"/><circle cx="297.68" cy="282.75" r="2.1" fill="#000"/><circle cx="297.68" cy="290.52" r="2.1" fill="#000"/><circle cx="297.68" cy="313.83" r="2.1" fill="#000"/><circle cx="312.75" cy="282.75" r="2.1" fill="#000"/><circle cx="312.75" cy="298.29" r="2.1" fill="#000"/><circle cx="312.75" cy="313.83" r="2.1" fill="#000"/><circle cx="327.83" cy="282.75" r="2.1" fill="#000"/><circle cx="327.83" cy="290.52" r="2.1" fill="#000"/><circle cx="327.83" cy="306.06" r="2.1" fill="#000"/><circle cx="342.91" cy="290.52" r="2.1" fill="#000"/><circle cx="342.91" cy="298.29" r="2.1" fill="#000"/><circle cx="342.91" cy="306.06" r="2.1" fill="#000"/><circle cx="357.99" cy="290.52" r="2.1" fill="#000"/><circle cx="357.99" cy="306.06" r="2.1" fill="#000"/><circle cx="357.99" cy="313.83" r="2.1" fill="#000"/><circle cx="373.07" cy="290.52" r="2.1" fill="#000"/><circle cx="373.07" cy="298.29" r="2.1" fill="#000"/><circle cx="373.07" cy="313.83" r="2.1" fill="#000"/><circle cx="388.14" cy="298.29" r="2.1" fill="#000"/><circle cx="388.14" cy="306.06" r="2.1" fill="#000"/><circle cx="388.14" cy="313.83" r="2.1" fill="#000"/><circle cx="403.22" cy="282.75" r="2.1" fill="#000"/><circle cx="403.22" cy="306.06" r="2.1" fill="#000"/><circle cx="403.22" cy="313.83" r="2.1" fill="#000"/><circle cx="418.30" cy="282.75" r="2.1" fill="#000"/><circle cx="418.30" cy="298.29" r="2.1" fill="#000"/><circle cx="418.30" cy="321.60" r="2.1" fill="#000"/><circle cx="433.38" cy="282.75" r="2.1" fill="#000"/><circle cx="433.38" cy="290.52" r="2.1" fill="#000"/><circle cx="433.38" cy="321.60" r="2.1" fill="#000"/><circle cx="448.46" cy="282.75" r="2.1" fill="#000"/><circle cx="448.46" cy="306.06" r="2.1" fill="#000"/><circle cx="448.46" cy="321.60" r="2.1" fill="#000"/><circle cx="463.53" cy="290.52" r="2.1" fill="#000"/><circle cx="463.53" cy="298.29" r="2.1" fill="#000"/><circle cx="463.53" cy="321.60" r="2.1" fill="#000"/><circle cx="478.61" cy="298.29" r="2.1" fill="#000"/><circle cx="478.61" cy="306.06" r="2.1" fill="#000"/><circle cx="478.61" cy="321.60" r="2.1" fill="#000"/><circle cx="493.69" cy="282.75" r="2.1" fill="#000"/><circle cx="493.69" cy="313.83" r="2.1" fill="#000"/><circle cx="493.69" cy="321.60" r="2.1" fill="#000"/><circle cx="508.77" cy="306.06" r="2.1" fill="#000"/><circle cx="508.77" cy="313.83" r="2.1" fill="#000"/><circle cx="508.77" cy="321.60" r="2.1" fill="#000"/><circle cx="523.85" cy="298.29" r="2.1" fill="#000"/><circle cx="523.85" cy="313.83" r="2.1" fill="#000"/><circle cx="523.85" cy="321.60" r="2.1" fill="#000"/><circle cx="538.92" cy="290.52" r="2.1" fill="#000"/><circle cx="538.92" cy="306.06" r="2.1" fill="#000"/><circle cx="538.92" cy="321.60" r="2.1" fill="#000"/><circle cx="554.00" cy="290.52" r="2.1" fill="#000"/><circle cx="554.00" cy="313.83" r="2.1" fill="#000"/><circle cx="554.00" cy="321.60" r="2.1" fill="#000"/><circle cx="569.08" cy="282.75" r="2.1" fill="#000"/><circle cx="569.08" cy="290.52" r="2.1" fill="#000"/><circle cx="569.08" cy="298.29" r="2.1" fill="#000"/><circle cx="569.08" cy="306.06" r="2.1" fill="#000"/><circle cx="584.16" cy="282.75" r="2.1" fill="#000"/><circle cx="584.16" cy="290.52" r="2.1" fill="#000"/><circle cx="584.16" cy="298.29" r="2.1" fill="#000"/><circle cx="584.16" cy="313.83" r="2.1" fill="#000"/><circle cx="599.24" cy="282.75" r="2.1" fill="#000"/><circle cx="599.24" cy="298.29" r="2.1" fill="#000"/><circle cx="599.24" cy="306.06" r="2.1" fill="#000"/><circle cx="599.24" cy="313.83" r="2.1" fill="#000"/><circle cx="614.31" cy="282.75" r="2.1" fill="#000"/><circle cx="614.31" cy="290.52" r="2.1" fill="#000"/><circle cx="614.31" cy="306.06" r="2.1" fill="#000"/><circle cx="614.31" cy="313.83" r="2.1" fill="#000"/><circle cx="629.39" cy="290.52" r="2.1" fill="#000"/><circle cx="629.39" cy="298.29" r="2.1" fill="#000"/><circle cx="629.39" cy="306.06" r="2.1" fill="#000"/><circle cx="629.39" cy="313.83" r="2.1" fill="#000"/><circle cx="644.47" cy="282.75" r="2.1" fill="#000"/><circle cx="644.47" cy="290.52" r="2.1" fill="#000"/><circle cx="644.47" cy="298.29" r="2.1" fill="#000"/><circle cx="644.47" cy="321.60" r="2.1" fill="#000"/><circle cx="659.55" cy="282.75" r="2.1" fill="#000"/><circle cx="659.55" cy="298.29" r="2.1" fill="#000"/><circle cx="659.55" cy="306.06" r="2.1" fill="#000"/><circle cx="659.55" cy="321.60" r="2.1" fill="#000"/><circle cx="674.63" cy="282.75" r="2.1" fill="#000"/><circle cx="674.63" cy="298.29" r="2.1" fill="#000"/><circle cx="674.63" cy="313.83" r="2.1" fill="#000"/><circle cx="674.63" cy="321.60" r="2.1" fill="#000"/><circle cx="689.70" cy="282.75" r="2.1" fill="#000"/><circle cx="689.70" cy="290.52" r="2.1" fill="#000"/><circle cx="689.70" cy="306.06" r="2.1" fill="#000"/><circle cx="689.70" cy="321.60" r="2.1" fill="#000"/><circle cx="704.78" cy="282.75" r="2.1" fill="#000"/><circle cx="704.78" cy="306.06" r="2.1" fill="#000"/><circle cx="704.78" cy="313.83" r="2.1" fill="#000"/><circle cx="704.78" cy="321.60" r="2.1" fill="#000"/><circle cx="719.86" cy="298.29" r="2.1" fill="#000"/><circle cx="719.86" cy="306.06" r="2.1" fill="#000"/><circle cx="719.86" cy="313.83" r="2.1" fill="#000"/><circle cx="719.86" cy="321.60" r="2.1" fill="#000"/><circle cx="734.94" cy="290.52" r="2.1" fill="#000"/><circle cx="734.94" cy="298.29" r="2.1" fill="#000"/><circle cx="734.94" cy="306.06" r="2.1" fill="#000"/><circle cx="734.94" cy="321.60" r="2.1" fill="#000"/><circle cx="750.02" cy="282.75" r="2.1" fill="#000"/><circle cx="750.02" cy="290.52" r="2.1" fill="#000"/><circle cx="750.02" cy="313.83" r="2.1" fill="#000"/><circle cx="750.02" cy="321.60" r="2.1" fill="#000"/><circle cx="765.09" cy="290.52" r="2.1" fill="#000"/><circle cx="765.09" cy="298.29" r="2.1" fill="#000"/><circle cx="765.09" cy="313.83" r="2.1" fill="#000"/><circle cx="765.09" cy="321.60" r="2.1" fill="#000"/><circle cx="780.17" cy="290.52" r="2.1" fill="#000"/><circle cx="780.17" cy="306.06" r="2.1" fill="#000"/><circle cx="780.17" cy="313.83" r="2.1" fill="#000"/><circle cx="780.17" cy="321.60" r="2.1" fill="#000"/><circle cx="795.25" cy="282.75" r="2.1" fill="#000"/><circle cx="795.25" cy="290.52" r="2.1" fill="#000"/><circle cx="795.25" cy="298.29" r="2.1" fill="#000"/><circle cx="795.25" cy="306.06" r="2.1" fill="#000"/><circle cx="795.25" cy="313.83" r="2.1" fill="#000"/><circle cx="810.33" cy="282.75" r="2.1" fill="#000"/><circle cx="810.33" cy="298.29" r="2.1" fill="#000"/><circle cx="810.33" cy="306.06" r="2.1" fill="#000"/><circle cx="810.33" cy="313.83" r="2.1" fill="#000"/><circle cx="810.33" cy="321.60" r="2.1" fill="#000"/><circle cx="825.41" cy="282.75" r="2.1" fill="#000"/><circle cx="825.41" cy="290.52" r="2.1" fill="#000"/><circle cx="825.41" cy="298.29" r="2.1" fill="#000"/><circle cx="825.41" cy="306.06" r="2.1" fill="#000"/><circle cx="825.41" cy="321.60" r="2.1" fill="#000"/><circle cx="840.48" cy="282.75" r="2.1" fill="#000"/><circle cx="840.48" cy="290.52" r="2.1" fill="#000"/><circle cx="840.48" cy="298.29" r="2.1" fill="#000"/><circle cx="840.48" cy="313.83" r="2.1" fill="#000"/><circle cx="840.48" cy="321.60" r="2.1" fill="#000"/><circle cx="855.56" cy="282.75" r="2.1" fill="#000"/><circle cx="855.56" cy="290.52" r="2.1" fill="#000"/><circle cx="855.56" cy="306.06" r="2.1" fill="#000"/><circle cx="855.56" cy="313.83" r="2.1" fill="#000"/><circle cx="855.56" cy="321.60" r="2.1" fill="#000"/><circle cx="870.64" cy="290.52" r="2.1" fill="#000"/><circle cx="870.64" cy="298.29" r="2.1" fill="#000"/><circle cx="870.64" cy="306.06" r="2.1" fill="#000"/><circle cx="870.64" cy="313.83" r="2.1" fill="#000"/><circle cx="870.64" cy="321.60" r="2.1" fill="#000"/><circle cx="885.72" cy="282.75" r="2.1" fill="#000"/><circle cx="885.72" cy="290.52" r="2.1" fill="#000"/><circle cx="885.72" cy="298.29" r="2.1" fill="#000"/><circle cx="885.72" cy="306.06" r="2.1" fill="#000"/><circle cx="885.72" cy="313.83" r="2.1" fill="#000"/><circle cx="885.72" cy="321.60" r="2.1" fill="#000"/>
<g font-family="Liberation Sans, sans-serif"><text transform="translate(463.60 334.10) scale(0.1000 0.1150)" font-size="69.0" fill="#000" text-anchor="middle">Subset</text></g>
<g font-family="Liberation Sans, sans-serif"><text transform="translate(386.60 349.90) scale(0.1000 0.1050)" font-size="69.7" fill="#000" text-anchor="start">Number of currencies</text><rect x="456.40" y="343.8" width="8" height="8" fill="#E69F00"/><text transform="translate(467.30 350.30) scale(0.1000 0.1030)" font-size="61.0" fill="#222" text-anchor="start">2</text><rect x="474.00" y="343.8" width="8" height="8" fill="#56B4E9"/><text transform="translate(484.90 350.30) scale(0.1000 0.1030)" font-size="61.0" fill="#222" text-anchor="start">3</text><rect x="491.40" y="343.8" width="8" height="8" fill="#009E73"/><text transform="translate(502.30 350.30) scale(0.1000 0.1030)" font-size="61.0" fill="#222" text-anchor="start">4</text><rect x="508.90" y="343.8" width="8" height="8" fill="#F0E442"/><text transform="translate(519.80 350.30) scale(0.1000 0.1030)" font-size="61.0" fill="#222" text-anchor="start">5</text><rect x="526.30" y="343.8" width="8" height="8" fill="#0072B2"/><text transform="translate(537.20 350.30) scale(0.1000 0.1030)" font-size="61.0" fill="#222" text-anchor="start">6</text></g>
</svg>
</body></html>
